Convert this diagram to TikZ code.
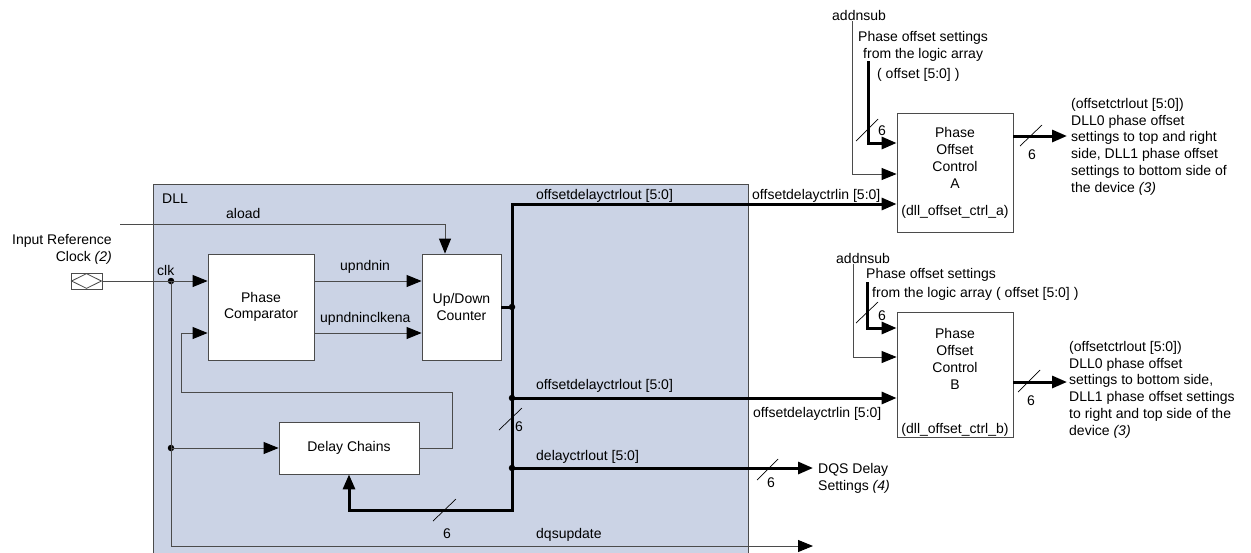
\documentclass[tikz,border=0pt]{standalone}
\usepackage{fontspec}
\setmainfont{Liberation Sans}
\usetikzlibrary{arrows.meta}
\definecolor{dllfill}{RGB}{203,211,229}
\definecolor{ln}{RGB}{75,75,75}
\begin{document}
\begin{tikzpicture}[x=1pt,y=-1pt,
  every node/.style={font=\fontsize{14}{16.7}\selectfont, inner sep=0pt},
  lbl/.style={anchor=base west},
  blk/.style={draw=ln, fill=white, line width=0.8pt, align=center},
  wire/.style={draw=ln, line width=0.9pt},
  bus/.style={draw=black, line width=3pt},
  tip/.style={-{Triangle[length=15pt,width=12pt,color=black]}},
  jdot/.style={circle, fill=black, minimum size=6.5pt},
  slash/.style={draw=black, line width=0.7pt}]
\useasboundingbox (0,0) rectangle (1251,552);
\begin{scope}
\clip (0,0) rectangle (1251,552);
\fill[dllfill] (153,184) rectangle (748,560);
\draw[ln, line width=0.9pt] (153,560) -- (153,184) -- (748,184) -- (748,560);
\end{scope}

% blocks
\node[blk, minimum width=106pt, minimum height=106pt] (pc) at (261,307) {Phase\\Comparator};
\node[blk, minimum width=79pt, minimum height=106pt] (udc) at (461.5,307) {Up/Down\\Counter};
\node[blk, minimum width=140pt, minimum height=52pt] (dc) at (349,448) {Delay Chains};
\node[blk, minimum width=116pt, minimum height=119pt] (boxA) at (955,172.5) {};
\node[blk, minimum width=116pt, minimum height=125pt] (boxB) at (955,374.5) {};

% clock pin
\node[draw=ln, fill=white, minimum width=31pt, minimum height=16pt, line width=0.8pt] (clkpin) at (86.5,281) {};
\draw[ln, line width=0.8pt] ([xshift=1pt]clkpin.west) -- ([yshift=-1pt]clkpin.north) -- ([xshift=-1pt]clkpin.east) -- ([yshift=1pt]clkpin.south) -- cycle;

% junction dots
\node[jdot] (j1) at (171,281) {};
\node[jdot] (j2) at (171,448) {};
\node[jdot] (j3) at (512,307) {};
\node[jdot] (j4) at (512,398) {};
\node[jdot] (j5) at (512,468) {};

% free coordinates
\coordinate (aloadin) at (120,224);
\coordinate (dqsend) at (813,546);
\coordinate (dqsout) at (813,468);
\coordinate (busbot) at (512,510);
\coordinate (fbr) at (452,392);
\coordinate (fbl) at (181,333);
\coordinate (offAtop) at (868,61);
\coordinate (outA) at (1067,136);
\coordinate (offBtop) at (867,282);
\coordinate (outB) at (1067,382);

% labels (multi-line nodes: base = last line)
\node[lbl] (lDLL) at (162,203) {DLL};
\node[lbl] (laload) at (226,218) {aload};
\node[anchor=base east, align=right] (lirc) at (112,261) {Input Reference\\Clock \textit{(2)}};
\node[lbl] (lclk) at (157,275) {clk};
\node[lbl] (lup) at (340,270) {upndnin};
\node[lbl] (lupc) at (320,322) {upndninclkena};
\node[lbl] (lo1) at (536,199) {offsetdelayctrlout [5:0]};
\node[lbl] (li1) at (752,199) {offsetdelayctrlin [5:0]};
\node[lbl] (lo2) at (536,389) {offsetdelayctrlout [5:0]};
\node[lbl] (li2) at (753,417) {offsetdelayctrlin [5:0]};
\node[lbl] (ldc) at (536,460) {delayctrlout [5:0]};
\node[lbl] (ldqsu) at (536,538) {dqsupdate};
\node[lbl, align=left] (ldqs) at (818,490) {DQS Delay\\Settings \textit{(4)}};

\node[lbl] (addA) at (832,20) {addnsub};
\node[lbl] (psA1) at (858,41) {Phase offset settings};
\node[lbl] (psA2) at (863,58) {from the logic array};
\node[lbl] (psA3) at (877,78) {( offset [5:0] )};
\node[anchor=base, align=center] (tA) at (955,188) {Phase\\Offset\\Control\\A};
\node[anchor=base] (tA2) at (955,215) {(dll\_offset\_ctrl\_a)};
\node[lbl, align=left] (oA) at (1071,192) {(offsetctrlout [5:0])\\DLL0 phase offset\\settings to top and right\\side, DLL1 phase offset\\settings to bottom side of\\the device \textit{(3)}};

\node[lbl] (addB) at (836,263) {addnsub};
\node[lbl] (psB1) at (866,278) {Phase offset settings};
\node[lbl] (psB2) at (872,297) {from the logic array};
\node[lbl] (psB3) at (996,297) {( offset [5:0] )};
\node[anchor=base, align=center] (tB) at (955,389) {Phase\\Offset\\Control\\B};
\node[anchor=base] (tB2) at (955,433) {(dll\_offset\_ctrl\_b)};
\node[lbl, align=left] (oB) at (1069,435) {(offsetctrlout [5:0])\\DLL0 phase offset\\settings to bottom side,\\DLL1 phase offset settings\\to right and top side of the\\device \textit{(3)}};

% bus width labels
\node[lbl] (n1) at (515,431) {6};
\node[lbl] (n2) at (767,487) {6};
\node[lbl] (n3) at (443,538) {6};
\node[lbl] (n4) at (878,135) {6};
\node[lbl] (n5) at (1028,159) {6};
\node[lbl] (n6) at (878,320) {6};
\node[lbl] (n7) at (1027,405) {6};

% thin wires
\draw[wire,tip] (clkpin.east) -- ([yshift=26pt]pc.west);
\draw[wire,tip] (j1.center) |- (dqsend);
\draw[wire,tip] (j2.center) -- (dc.west);
\draw[wire,tip] (dc.east) -| (fbr) -| (fbl) -- ([yshift=-26pt]pc.west);
\draw[wire,tip] ([yshift=26pt]pc.east) -- ([yshift=26pt]udc.west);
\draw[wire,tip] ([yshift=-26pt]pc.east) -- ([yshift=-26pt]udc.west);
\draw[wire,tip] (aloadin) -| ([xshift=-16.5pt]udc.north);
\draw[wire,tip] ([xshift=-6.5pt,yshift=-1pt]addA.south) |- ([yshift=-1.5pt]boxA.west);
\draw[wire,tip] ([xshift=-10pt,yshift=-1pt]addB.south) |- ([yshift=17.5pt]boxB.west);

% buses
\draw[bus] (udc.east) -- (j3.center);
\draw[bus,tip] (j3.center) |- ([yshift=-31.5pt]boxA.west);
\draw[bus,tip] (j3.center) -- (busbot) -| (dc.south);
\draw[bus,tip] (j4.center) -- ([yshift=-23.5pt]boxB.west);
\draw[bus,tip] (j5.center) -- (dqsout);
\draw[bus,tip] (offAtop) |- ([yshift=29.5pt]boxA.west);
\draw[bus,tip] ([yshift=36.5pt]boxA.east) -- (outA);
\draw[bus,tip] (offBtop) |- ([yshift=46.5pt]boxB.west);
\draw[bus,tip] ([yshift=-7.5pt]boxB.east) -- (outB);

% bus slashes
\draw[slash] (499,430) -- (522,408);
\draw[slash] (757,480) -- (778,459);
\draw[slash] (433,521) -- (456,499);
\draw[slash] (856,141) -- (878,119);
\draw[slash] (1020,146) -- (1042,125);
\draw[slash] (856,323) -- (878,302);
\draw[slash] (1018,392) -- (1040,370);
\end{tikzpicture}
\end{document}
